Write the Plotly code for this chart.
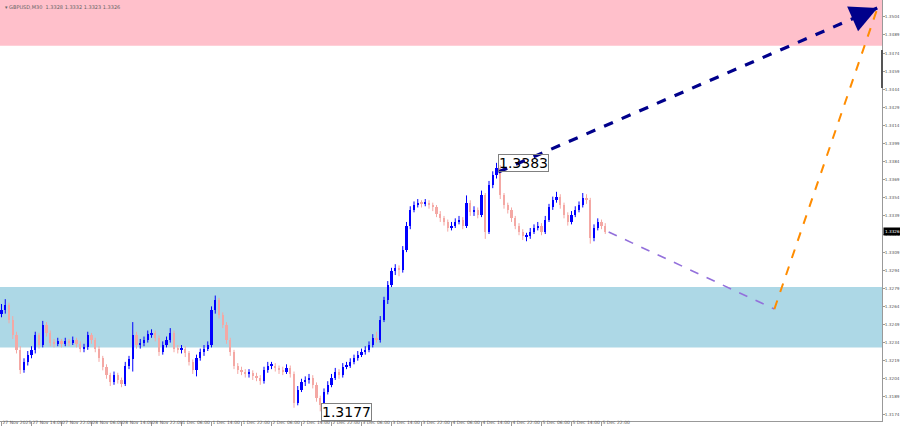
import plotly.graph_objects as go

# ---------------- data (GBPUSD) ----------------
bar_index = list(range(162))

opens = [1.3258,1.3261,1.3265,1.3253,1.3240,1.3228,1.3211,1.3218,1.3224,1.3228,
         1.3240,1.3232,1.3249,1.3242,1.3234,1.3233,1.3235,1.3233,1.3235,1.3234,
         1.3236,1.3233,1.3229,1.3230,1.3240,1.3236,1.3229,1.3221,1.3214,1.3207,
         1.3201,1.3207,1.3203,1.3200,1.3215,1.3220,1.3240,1.3232,1.3234,1.3236,
         1.3241,1.3242,1.3238,1.3226,1.3232,1.3236,1.3242,1.3229,1.3228,1.3229,
         1.3225,1.3218,1.3211,1.3221,1.3226,1.3229,1.3232,1.3261,1.3269,1.3257,
         1.3249,1.3236,1.3226,1.3215,1.3211,1.3210,1.3208,1.3209,1.3206,1.3205,
         1.3202,1.3211,1.3215,1.3215,1.3213,1.3211,1.3210,1.3213,1.3208,1.3184,
         1.3195,1.3201,1.3203,1.3205,1.3199,1.3188,1.3182,1.3193,1.3199,1.3205,
         1.3210,1.3207,1.3214,1.3215,1.3218,1.3221,1.3224,1.3226,1.3228,1.3232,
         1.3238,1.3236,1.3253,1.3269,1.3282,1.3293,1.3296,1.3294,1.3311,1.3331,
         1.3344,1.3348,1.3350,1.3349,1.3350,1.3348,1.3346,1.3341,1.3337,1.3334,
         1.3329,1.3331,1.3334,1.3336,1.3331,1.3350,1.3342,1.3344,1.3340,1.3356,
         1.3326,1.3365,1.3373,1.3379,1.3356,1.3348,1.3344,1.3337,1.3331,1.3326,
         1.3322,1.3322,1.3326,1.3329,1.3331,1.3326,1.3336,1.3346,1.3352,1.3355,
         1.3348,1.3340,1.3334,1.3340,1.3344,1.3348,1.3354,1.3352,1.3321,1.3329,
         1.3334,1.3331]

highs = [1.3266,1.3270,1.3267,1.3256,1.3243,1.3231,1.3221,1.3227,1.3231,1.3243,
         1.3242,1.3252,1.3251,1.3244,1.3237,1.3238,1.3237,1.3238,1.3237,1.3239,
         1.3238,1.3235,1.3233,1.3243,1.3242,1.3238,1.3231,1.3223,1.3216,1.3209,
         1.3210,1.3209,1.3205,1.3218,1.3223,1.3251,1.3243,1.3237,1.3239,1.3244,
         1.3245,1.3244,1.3240,1.3235,1.3239,1.3246,1.3244,1.3232,1.3232,1.3231,
         1.3227,1.3220,1.3224,1.3229,1.3232,1.3235,1.3264,1.3273,1.3271,1.3259,
         1.3251,1.3238,1.3228,1.3217,1.3214,1.3212,1.3212,1.3211,1.3209,1.3207,
         1.3214,1.3218,1.3218,1.3217,1.3215,1.3214,1.3216,1.3215,1.3210,1.3198,
         1.3204,1.3206,1.3208,1.3207,1.3201,1.3190,1.3196,1.3202,1.3208,1.3213,
         1.3212,1.3217,1.3218,1.3221,1.3224,1.3227,1.3229,1.3231,1.3235,1.3241,
         1.3243,1.3256,1.3272,1.3285,1.3296,1.3299,1.3298,1.3314,1.3334,1.3347,
         1.3351,1.3353,1.3352,1.3353,1.3352,1.3350,1.3348,1.3343,1.3339,1.3336,
         1.3334,1.3337,1.3339,1.3338,1.3356,1.3352,1.3347,1.3346,1.3360,1.3358,
         1.3368,1.3376,1.3383,1.3381,1.3358,1.3350,1.3346,1.3339,1.3333,1.3328,
         1.3325,1.3329,1.3332,1.3334,1.3333,1.3339,1.3349,1.3355,1.3359,1.3357,
         1.3350,1.3342,1.3343,1.3347,1.3351,1.3358,1.3357,1.3354,1.3332,1.3337,
         1.3336,1.3333]

lows = [1.3255,1.3258,1.3250,1.3237,1.3225,1.3208,1.3209,1.3215,1.3221,1.3225,
        1.3229,1.3230,1.3239,1.3231,1.3230,1.3231,1.3230,1.3231,1.3231,1.3232,
        1.3230,1.3226,1.3226,1.3228,1.3233,1.3226,1.3218,1.3211,1.3204,1.3198,
        1.3199,1.3200,1.3197,1.3198,1.3212,1.3210,1.3229,1.3229,1.3231,1.3234,
        1.3238,1.3235,1.3223,1.3224,1.3230,1.3234,1.3226,1.3225,1.3225,1.3222,
        1.3215,1.3208,1.3206,1.3219,1.3223,1.3227,1.3230,1.3258,1.3254,1.3246,
        1.3233,1.3223,1.3212,1.3208,1.3207,1.3205,1.3205,1.3203,1.3202,1.3199,
        1.3200,1.3209,1.3212,1.3210,1.3208,1.3207,1.3208,1.3205,1.3180,1.3182,
        1.3193,1.3198,1.3200,1.3196,1.3185,1.3177,1.3180,1.3191,1.3197,1.3203,
        1.3204,1.3205,1.3212,1.3213,1.3216,1.3219,1.3222,1.3224,1.3226,1.3230,
        1.3234,1.3234,1.3251,1.3266,1.3280,1.3290,1.3289,1.3292,1.3309,1.3328,
        1.3342,1.3346,1.3346,1.3347,1.3345,1.3343,1.3338,1.3334,1.3331,1.3326,
        1.3327,1.3329,1.3332,1.3328,1.3329,1.3339,1.3339,1.3337,1.3338,1.3320,
        1.3324,1.3362,1.3370,1.3353,1.3345,1.3341,1.3334,1.3328,1.3323,1.3319,
        1.3318,1.3320,1.3324,1.3327,1.3323,1.3324,1.3334,1.3344,1.3350,1.3345,
        1.3337,1.3331,1.3332,1.3338,1.3342,1.3346,1.3349,1.3316,1.3318,1.3327,
        1.3328,1.3324]

closes = [1.3261,1.3265,1.3253,1.3240,1.3228,1.3211,1.3218,1.3224,1.3228,1.3240,
          1.3232,1.3249,1.3242,1.3234,1.3233,1.3235,1.3233,1.3235,1.3234,1.3236,
          1.3233,1.3229,1.3230,1.3240,1.3236,1.3229,1.3221,1.3214,1.3207,1.3201,
          1.3207,1.3203,1.3200,1.3215,1.3220,1.3240,1.3232,1.3234,1.3236,1.3241,
          1.3242,1.3238,1.3226,1.3232,1.3236,1.3242,1.3229,1.3228,1.3229,1.3225,
          1.3218,1.3211,1.3221,1.3226,1.3229,1.3232,1.3261,1.3269,1.3257,1.3249,
          1.3236,1.3226,1.3215,1.3211,1.3210,1.3208,1.3209,1.3206,1.3205,1.3202,
          1.3211,1.3215,1.3215,1.3213,1.3211,1.3210,1.3213,1.3208,1.3184,1.3195,
          1.3201,1.3203,1.3205,1.3199,1.3188,1.3182,1.3193,1.3199,1.3205,1.3210,
          1.3207,1.3214,1.3215,1.3218,1.3221,1.3224,1.3226,1.3228,1.3232,1.3238,
          1.3236,1.3253,1.3269,1.3282,1.3293,1.3296,1.3294,1.3311,1.3331,1.3344,
          1.3348,1.3350,1.3349,1.3350,1.3348,1.3346,1.3341,1.3337,1.3334,1.3329,
          1.3331,1.3334,1.3336,1.3331,1.3350,1.3342,1.3344,1.3340,1.3356,1.3326,
          1.3365,1.3373,1.3379,1.3356,1.3348,1.3344,1.3337,1.3331,1.3326,1.3322,
          1.3322,1.3326,1.3329,1.3331,1.3326,1.3336,1.3346,1.3352,1.3355,1.3348,
          1.3340,1.3334,1.3340,1.3344,1.3348,1.3354,1.3352,1.3321,1.3329,1.3334,
          1.3331,1.3326]

# time axis labels (every 8 bars)
time_tick_index = [0, 8, 16, 24, 32, 40, 48, 56, 64, 72, 80, 88, 96, 104, 112, 120, 128, 136, 144, 152, 160]
time_tick_text = ["27 Nov 2025", "27 Nov 14:00", "27 Nov 22:00", "28 Nov 06:00", "28 Nov 14:00",
                  "28 Nov 22:00", "1 Dec 06:00", "1 Dec 14:00", "1 Dec 22:00", "2 Dec 06:00",
                  "2 Dec 14:00", "2 Dec 22:00", "3 Dec 06:00", "3 Dec 14:00", "3 Dec 22:00",
                  "4 Dec 06:00", "4 Dec 14:00", "4 Dec 22:00", "5 Dec 06:00", "5 Dec 14:00",
                  "5 Dec 22:00"]

# price axis ticks
price_ticks = [1.3174, 1.3189, 1.3204, 1.3219, 1.3234, 1.3249, 1.3264, 1.3279, 1.3294,
               1.3309, 1.3324, 1.3339, 1.3354, 1.3369, 1.3384, 1.3399, 1.3414, 1.3429,
               1.3444, 1.3459, 1.3474, 1.3489, 1.3504]

# zones
resistance_zone = [1.3480, 1.3540]
support_zone = [1.3230, 1.3280]

# forecast waypoints
navy_x = [132.5, 233.6]
navy_y = [1.33754, 1.35114]
purple_x = [161.9, 206.1]
purple_y = [1.33257, 1.32618]
orange_x = [206.1, 233.6]
orange_y = [1.32618, 1.35114]

peak_label = ("1.3383", 132, 1.3383)
trough_label = ("1.3177", 85, 1.31765)
current_price = 1.3326
header_text = "▾ GBPUSD,M30  1.3328 1.3332 1.3323 1.3326"

BULL = "#0000ff"
BEAR = "#f4a8a4"

# ---------------- build candle parts ----------------
def candle_parts(up):
    bx, bbase, bh, wx, wy = [], [], [], [], []
    for i, o, h, l, c in zip(bar_index, opens, highs, lows, closes):
        if (c >= o) != up:
            continue
        bx.append(i)
        bbase.append(min(o, c))
        bh.append(max(abs(c - o), 0.00005))
        wx += [i, i, None]
        wy += [l, h, None]
    return bx, bbase, bh, wx, wy

fig = go.Figure()
for up, col in [(False, BEAR), (True, BULL)]:
    bx, bbase, bh, wx, wy = candle_parts(up)
    fig.add_trace(go.Scatter(x=wx, y=wy, mode="lines", line=dict(color=col, width=1),
                             hoverinfo="skip", showlegend=False))
    fig.add_trace(go.Bar(x=bx, y=bh, base=bbase, width=0.55, marker=dict(color=col, line=dict(width=0)),
                         hoverinfo="skip", showlegend=False))

fig.add_trace(go.Scatter(x=purple_x, y=purple_y, mode="lines",
                         line=dict(color="#9370db", width=1.6, dash="dash"),
                         hoverinfo="skip", showlegend=False))
fig.add_trace(go.Scatter(x=orange_x, y=orange_y, mode="lines",
                         line=dict(color="#ff8c00", width=2, dash="dash"),
                         hoverinfo="skip", showlegend=False))
fig.add_trace(go.Scatter(x=navy_x, y=navy_y, mode="lines",
                         line=dict(color="#00008b", width=3.2, dash="dash"),
                         hoverinfo="skip", showlegend=False))

# zones
fig.add_shape(type="rect", xref="paper", x0=0, x1=1, yref="y",
              y0=resistance_zone[0], y1=resistance_zone[1],
              fillcolor="#ffc0cb", line=dict(width=0), layer="below")
fig.add_shape(type="rect", xref="paper", x0=0, x1=1, yref="y",
              y0=support_zone[0], y1=support_zone[1],
              fillcolor="#add8e6", line=dict(width=0), layer="below")

# dark scroll mark on right axis
fig.add_shape(type="line", xref="paper", x0=1, x1=1, yref="paper", y0=0.791, y1=0.881,
              line=dict(color="#555555", width=2))

annotations = []
# arrowhead for navy line
annotations.append(dict(x=navy_x[1], y=navy_y[1], ax=navy_x[1] - 6, ay=navy_y[1] - 0.00082,
                        xref="x", yref="y", axref="x", ayref="y", text="",
                        showarrow=True, arrowhead=2, arrowsize=1.7, arrowwidth=3.2,
                        arrowcolor="#00008b", standoff=0))
# price labels
for txt, xi, yv, bg in [peak_label + ("rgba(0,0,0,0)",), trough_label + ("#ffffff",)]:
    annotations.append(dict(x=xi, y=yv, xref="x", yref="y", text=txt, showarrow=False,
                            xanchor="left", yanchor="middle", xshift=1,
                            font=dict(family="DejaVu Sans", size=14, color="#000000"),
                            bgcolor=bg, bordercolor="#808080",
                            borderwidth=1, borderpad=0))
# current price box
annotations.append(dict(x=1, y=current_price, xref="paper", yref="y", text=f"{current_price:.4f}",
                        showarrow=False, xanchor="left", yanchor="middle", xshift=1,
                        font=dict(family="DejaVu Sans", size=4.2, color="#ffffff"),
                        bgcolor="#000000", borderpad=1))
# header
annotations.append(dict(x=0, y=1, xref="paper", yref="paper", text=header_text, showarrow=False,
                        xanchor="left", yanchor="top", xshift=3, yshift=-2,
                        font=dict(family="DejaVu Sans", size=5, color="#666666")))

fig.update_layout(
    width=900, height=432,
    margin=dict(l=0, r=18, t=0, b=11, autoexpand=False),
    paper_bgcolor="#ffffff", plot_bgcolor="#ffffff",
    showlegend=False, hovermode=False, barmode="overlay", bargap=0,
    annotations=annotations,
    xaxis=dict(range=[-0.4, 234.8], showgrid=False,
               zeroline=False, tickmode="array", tickvals=time_tick_index, ticktext=time_tick_text,
               ticks="outside", ticklen=4, tickcolor="#999999", ticklabelposition="outside right",
               tickangle=0, ticklabelstandoff=-3,
               tickfont=dict(family="DejaVu Sans", size=4.5, color="#555555"),
               showline=True, linecolor="#999999", linewidth=1),
    yaxis=dict(range=[1.3169, 1.3518], side="right", showgrid=False, zeroline=False,
               tickmode="array", tickvals=price_ticks, tickformat=".4f",
               ticks="outside", ticklen=2, tickcolor="#999999", ticklabelstandoff=-1,
               tickfont=dict(family="DejaVu Sans", size=4.2, color="#555555"),
               showline=True, linecolor="#999999", linewidth=1),
)

fig.write_html("out.html", config={"displayModeBar": False},
               post_script="document.body.style.margin='0';document.body.style.overflow='hidden';")
